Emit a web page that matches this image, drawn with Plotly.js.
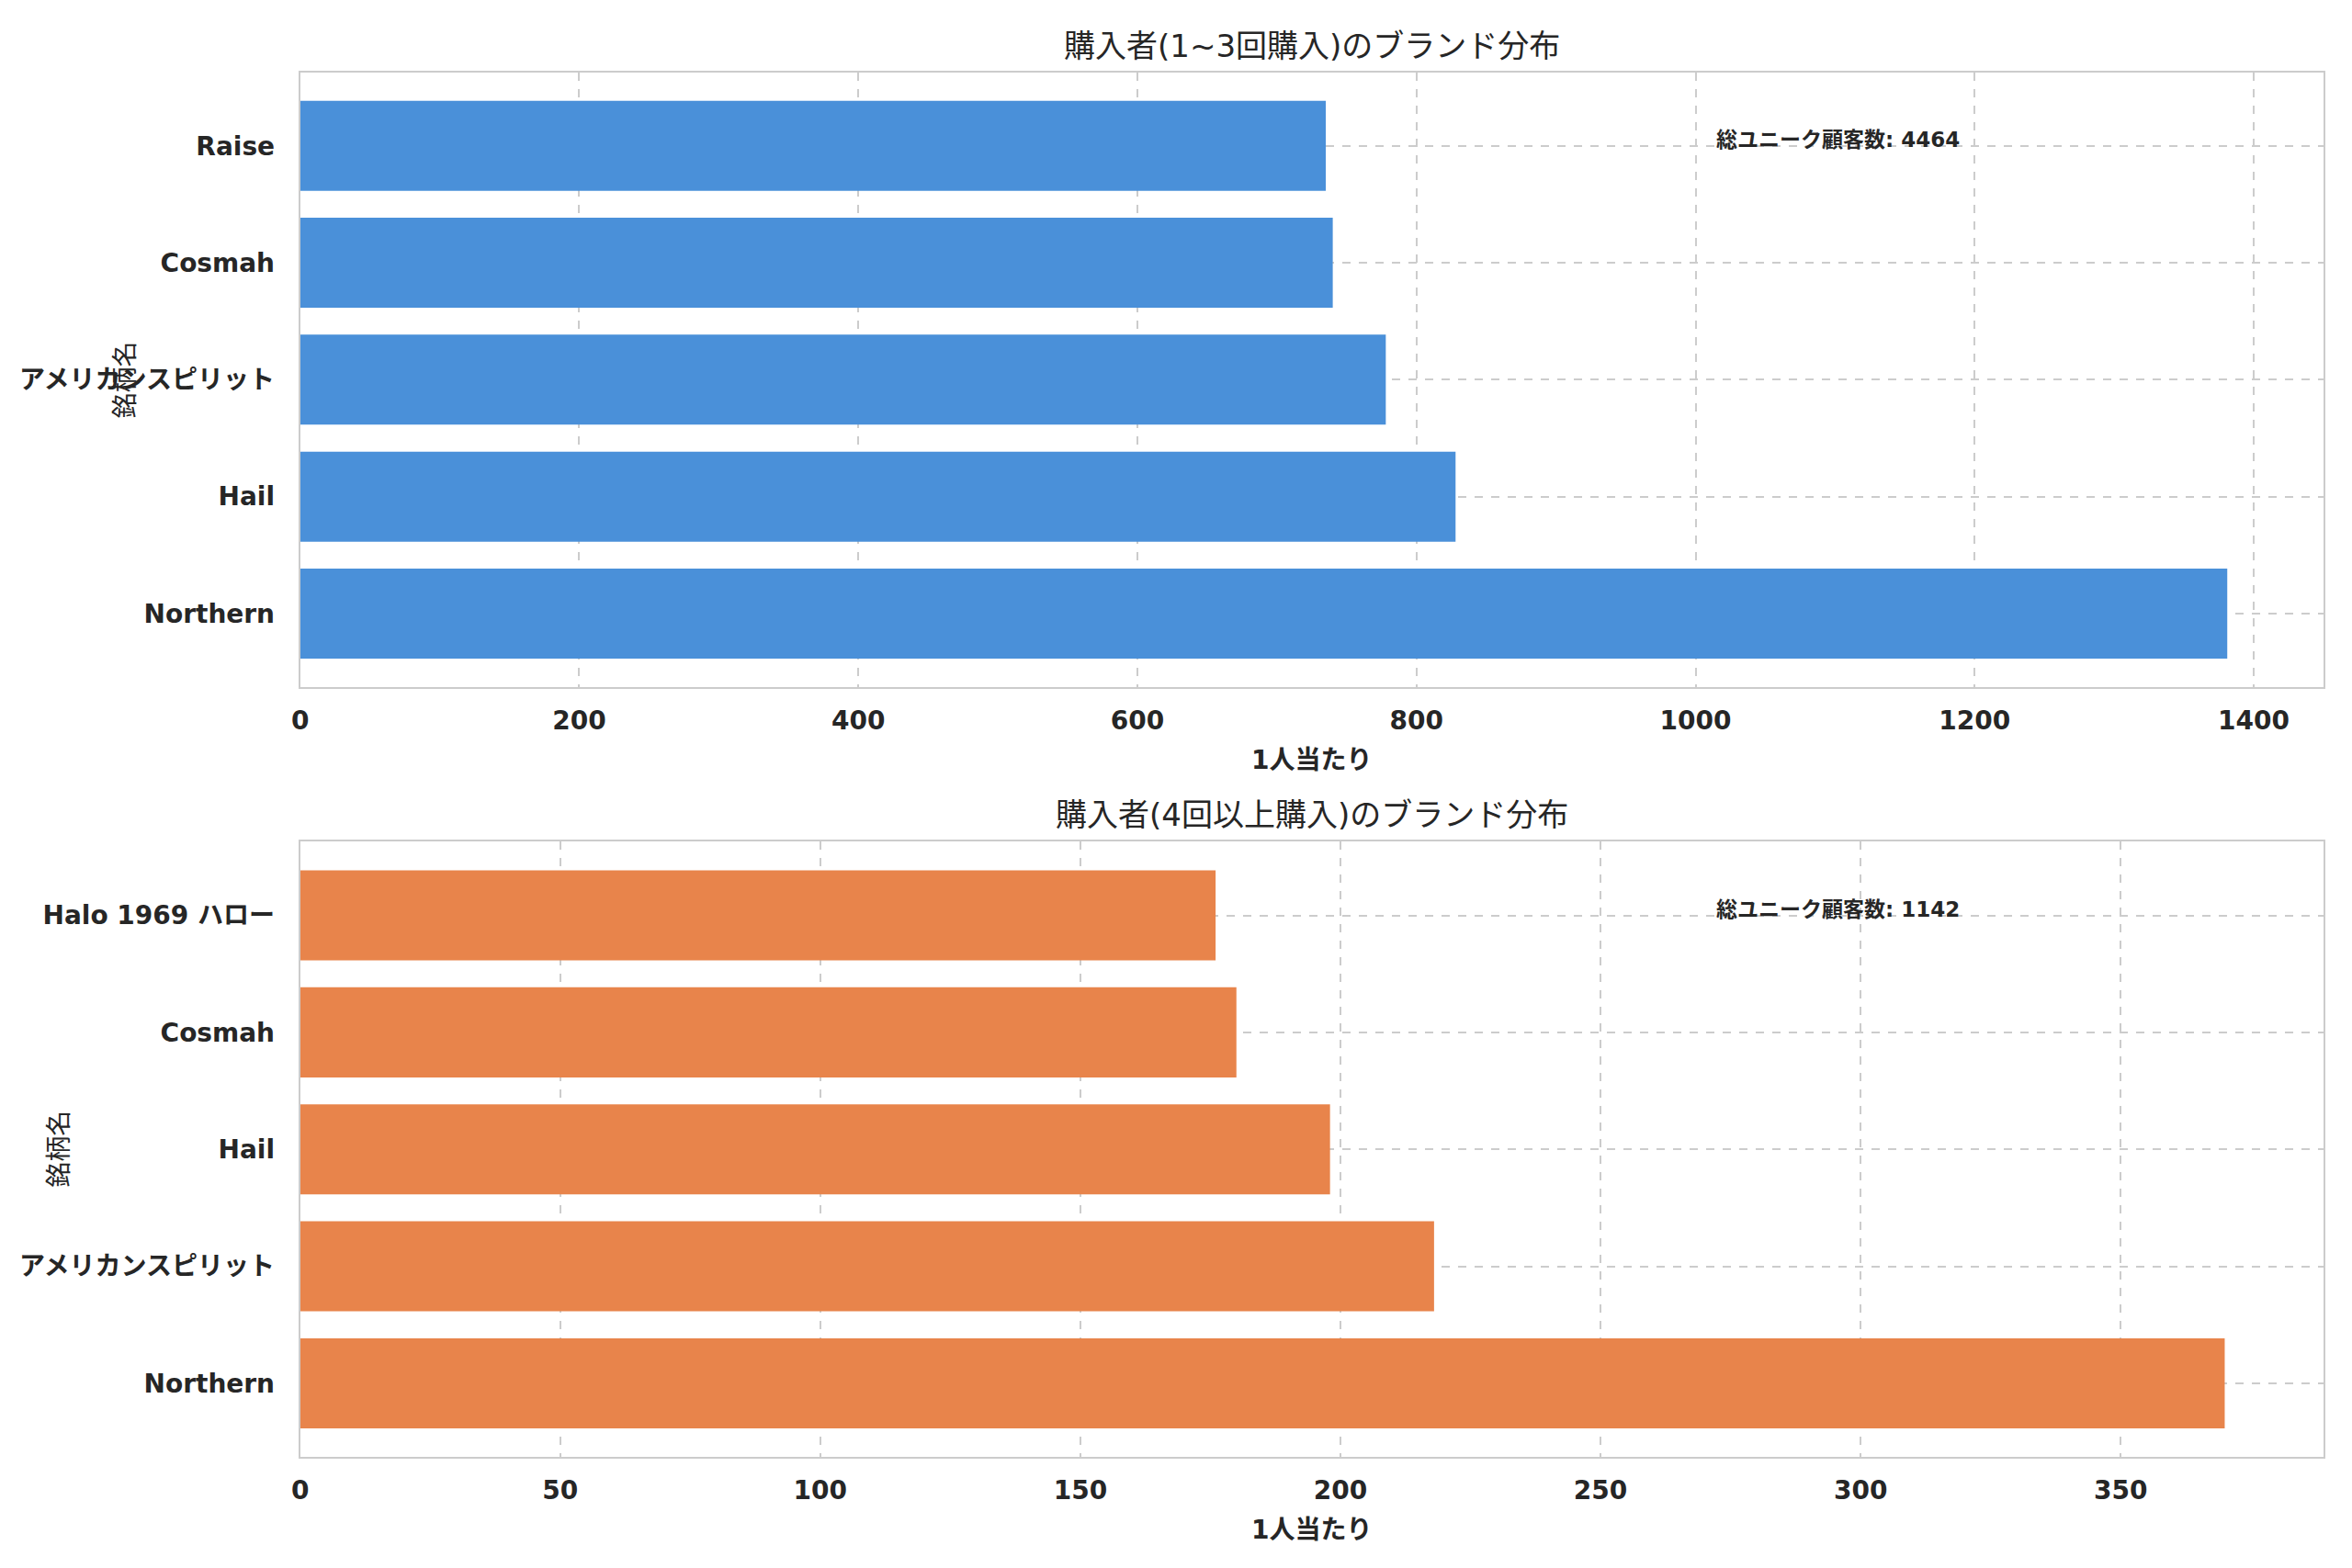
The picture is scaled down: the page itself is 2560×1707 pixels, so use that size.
<!DOCTYPE html>
<html>
<head>
<meta charset="utf-8">
<script src="https://cdn.plot.ly/plotly-3.0.1.min.js"></script>
<style>body{margin:0;background:#fff}</style>
</head>
<body>
<div id="chart" style="width:2560px;height:1707px"></div>
<script>
// 1~3回購入
const brandsLow = ['Northern', 'Hail', 'アメリカンスピリット', 'Cosmah', 'Raise'];
const valuesLow = [1381, 828, 778, 740, 735];
const totalLow = 4464;

// 4回以上購入
const brandsHigh = ['Northern', 'アメリカンスピリット', 'Hail', 'Cosmah', 'Halo 1969 ハロー'];
const valuesHigh = [370, 218, 198, 180, 176];
const totalHigh = 1142;

const font = {family: 'DejaVu Sans, Noto Sans CJK JP', color: '#262626'};
const tickFont = {family: 'DejaVu Sans, Noto Sans CJK JP', size: 28, color: '#262626', weight: 'bold'};

function xAxis(range, dtick, anchor) {
  return {
    anchor: anchor, range: range, dtick: dtick,
    tickfont: tickFont, showline: true, mirror: true, linecolor: '#cccccc', linewidth: 2,
    gridcolor: '#cccccc', griddash: 'dash', gridwidth: 2, zeroline: false, ticks: '',
    ticklabelstandoff: 10,
    title: {text: '1人当たり', font: {...font, size: 28, weight: 'bold'}, standoff: 18}
  };
}
function yAxis(domain, anchor) {
  return {
    anchor: anchor, domain: domain, range: [-0.63, 4.63],
    tickfont: tickFont, showline: true, mirror: true, linecolor: '#cccccc', linewidth: 2,
    gridcolor: '#cccccc', griddash: 'dash', gridwidth: 2, ticks: '', ticklen: 0,
    ticklabelstandoff: 20
  };
}

const data = [
  {type: 'bar', orientation: 'h', x: valuesLow, y: brandsLow, marker: {color: '#4a90d9'}, xaxis: 'x', yaxis: 'y'},
  {type: 'bar', orientation: 'h', x: valuesHigh, y: brandsHigh, marker: {color: '#e8844b'}, xaxis: 'x2', yaxis: 'y2'}
];

const layout = {
  width: 2560, height: 1707, showlegend: false, font: font,
  paper_bgcolor: '#fff', plot_bgcolor: '#fff',
  margin: {l: 0, r: 0, t: 0, b: 0},
  bargap: 0.23,
  xaxis: {...xAxis([0, 1450], 200, 'y'), domain: [0.1276, 0.9879]},
  yaxis: yAxis([0.5617, 0.954], 'x'),
  xaxis2: {...xAxis([0, 389], 50, 'y2'), domain: [0.1276, 0.9879]},
  yaxis2: yAxis([0.0708, 0.4632], 'x2'),
  annotations: [
    {text: '購入者(1~3回購入)のブランド分布', xref: 'paper', yref: 'paper', x: 0.5577, y: 0.958,
     yanchor: 'bottom', showarrow: false, font: {...font, size: 34}},
    {text: '購入者(4回以上購入)のブランド分布', xref: 'paper', yref: 'paper', x: 0.5577, y: 0.4675,
     yanchor: 'bottom', showarrow: false, font: {...font, size: 34}},
    {text: '銘柄名', xref: 'paper', yref: 'y domain', x: 0.046, y: 0.5, textangle: -90,
     showarrow: false, font: {...font, size: 28}},
    {text: '銘柄名', xref: 'paper', yref: 'y2 domain', x: 0.018, y: 0.5, textangle: -90,
     showarrow: false, font: {...font, size: 28}},
    {text: '総ユニーク顧客数: ' + totalLow, xref: 'x domain', yref: 'y domain', x: 0.699, y: 0.912,
     xanchor: 'left', showarrow: false, font: {...font, size: 23, weight: 'bold'}},
    {text: '総ユニーク顧客数: ' + totalHigh, xref: 'x2 domain', yref: 'y2 domain', x: 0.699, y: 0.912,
     xanchor: 'left', showarrow: false, font: {...font, size: 23, weight: 'bold'}}
  ]
};

Plotly.newPlot('chart', data, layout, {staticPlot: true});
</script>
</body>
</html>
